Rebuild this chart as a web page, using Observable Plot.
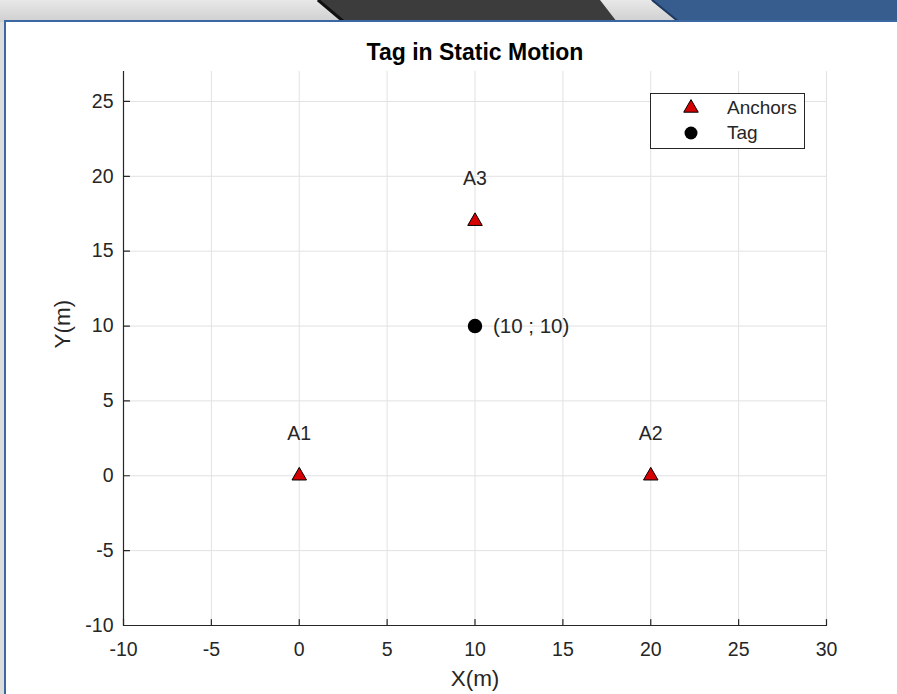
<!DOCTYPE html>
<html>
<head>
<meta charset="utf-8">
<script src="https://cdn.jsdelivr.net/npm/d3@7"></script>
<script src="https://cdn.jsdelivr.net/npm/@observablehq/plot@0.6"></script>
<style>
  html, body { margin: 0; padding: 0; background: #ffffff; }
  #stage { position: relative; width: 897px; height: 694px; overflow: hidden; background: #dcdcdc; font-family: "Liberation Sans", Arial, Helvetica, sans-serif; }
  #deco { position: absolute; left: 0; top: 0; }
  #panel { position: absolute; left: 4px; top: 20px; right: -4px; bottom: -4px; background: #ffffff;
           border-top: 2px solid #3b68a3; border-left: 2px solid #3b68a3; }
  #chart { position: absolute; left: 0; top: 0; }
  #legend { position: absolute; left: 650px; top: 93px; width: 155px; height: 56px; background: #ffffff;
            border: 1px solid #262626; box-sizing: border-box; }
  #legend .row { position: absolute; left: 0; height: 24px; }
  #legend svg { position: absolute; left: 28px; top: 0; }
  #legend span { position: absolute; left: 76px; font-size: 19px; color: #262626; white-space: nowrap; line-height: 24px; }
</style>
</head>
<body>
<div id="stage">
  <svg id="deco" width="897" height="22">
    <defs>
      <linearGradient id="strip" x1="0" y1="0" x2="0" y2="1">
        <stop offset="0" stop-color="#e8e8e8"/>
        <stop offset="1" stop-color="#cfcfcf"/>
      </linearGradient>
    </defs>
    <rect x="0" y="0" width="897" height="22" fill="url(#strip)"/>
    <polygon points="317,0 600,0 617,22 343,22" fill="#3c3c3c"/>
    <line x1="318" y1="0" x2="344" y2="22" stroke="#111111" stroke-width="3"/>
    <polygon points="651,0 897,0 897,22 678,22" fill="#365d8e"/>
    <line x1="652" y1="0" x2="679" y2="22" stroke="#1f3a60" stroke-width="2"/>
  </svg>
  <div id="panel"></div>
  <div id="chart"></div>
  <div id="legend"></div>
</div>
<script>
// Axis setup
const xDomain = [-10, 30];
const yDomain = [-10, 27];
const xTicks = [-10, -5, 0, 5, 10, 15, 20, 25, 30];
const yTicks = [-10, -5, 0, 5, 10, 15, 20, 25];

// Anchor positions (metres)
const anchorNames = ["A1", "A2", "A3"];
const anchorX = [0, 20, 10];
const anchorY = [0, 0, 17];

// Tag position (metres)
const tagX = [10];
const tagY = [10];

const seriesNames = ["Anchors", "Tag"];
const anchorFill = "#d60000";
const ink = "#262626";

const anchors = anchorNames.map((name, i) => ({name, x: anchorX[i], y: anchorY[i]}));
const tags = tagX.map((x, i) => ({x, y: tagY[i], label: `(${x} ; ${tagY[i]})`}));

// plain hyphen-minus tick labels
const fmt = d => String(d);

// short inward tick drawn from the point along the vector direction
const tickShape = {draw(context, l) { context.moveTo(0, 0); context.lineTo(0, -l); }};

const chart = Plot.plot({
  width: 897,
  height: 694,
  marginLeft: 123,
  marginRight: 71,
  marginTop: 71,
  marginBottom: 69,
  x: {domain: xDomain},
  y: {domain: yDomain},
  style: {fontFamily: "'Liberation Sans', Arial, Helvetica, sans-serif", fontSize: "19px", color: ink, background: "transparent", overflow: "visible"},
  marks: [
    Plot.gridX(xTicks, {stroke: "#e2e2e2", strokeOpacity: 1}),
    Plot.gridY(yTicks, {stroke: "#e2e2e2", strokeOpacity: 1}),
    Plot.ruleX([xDomain[0]], {stroke: ink, strokeWidth: 1.2}),
    Plot.ruleY([yDomain[0]], {stroke: ink, strokeWidth: 1.2}),
    Plot.vector(xTicks, {x: d => d, y: yDomain[0], length: 6, rotate: 0, anchor: "start", shape: tickShape, stroke: ink, strokeWidth: 1.2}),
    Plot.vector(yTicks, {x: xDomain[0], y: d => d, length: 6, rotate: 90, anchor: "start", shape: tickShape, stroke: ink, strokeWidth: 1.2}),
    Plot.axisX(xTicks, {tickSize: 0, tickPadding: 17, label: null, tickFormat: fmt, fontSize: 19.5, fill: ink}),
    Plot.axisY(yTicks, {tickSize: 0, tickPadding: 10, label: null, tickFormat: fmt, fontSize: 19.5, fill: ink}),
    Plot.text(["X(m)"], {frameAnchor: "bottom", dy: 53, text: d => d, fontSize: 22.5, fill: ink, lineAnchor: "middle"}),
    Plot.text(["Y(m)"], {frameAnchor: "left", dx: -61, rotate: -90, text: d => d, fontSize: 22.5, fill: ink, lineAnchor: "middle"}),
    Plot.text(["Tag in Static Motion"], {frameAnchor: "top", dy: -19, text: d => d, fontSize: 23, fontWeight: "bold", fill: "#000", lineAnchor: "middle"}),
    Plot.dot(anchors, {x: "x", y: "y", symbol: "triangle", r: 5.4, fill: anchorFill, stroke: "#000", strokeWidth: 1}),
    Plot.text(anchors, {x: "x", y: "y", text: "name", dy: -42, fontSize: 19.5, fill: ink, lineAnchor: "middle"}),
    Plot.dot(tags, {x: "x", y: "y", r: 6.5, fill: "#000", stroke: "#000"}),
    Plot.text(tags, {x: "x", y: "y", text: "label", dx: 18, textAnchor: "start", fontSize: 20.5, fill: ink, lineAnchor: "middle"})
  ]
});
document.getElementById("chart").appendChild(chart);

// Legend box
const legend = document.getElementById("legend");
const tri = d3.symbol(d3.symbolTriangle, Math.PI * 5.4 * 5.4)();
const rows = [
  {name: seriesNames[0], svg: `<svg width="24" height="24"><path d="${tri}" transform="translate(12,12)" fill="${anchorFill}" stroke="#000"/></svg>`},
  {name: seriesNames[1], svg: `<svg width="24" height="24"><circle cx="12" cy="12" r="6.5" fill="#000"/></svg>`}
];
rows.forEach((r, i) => {
  const row = document.createElement("div");
  row.className = "row";
  row.style.top = (2 + i * 25) + "px";
  row.style.width = "100%";
  row.innerHTML = r.svg + `<span>${r.name}</span>`;
  legend.appendChild(row);
});
</script>
</body>
</html>
